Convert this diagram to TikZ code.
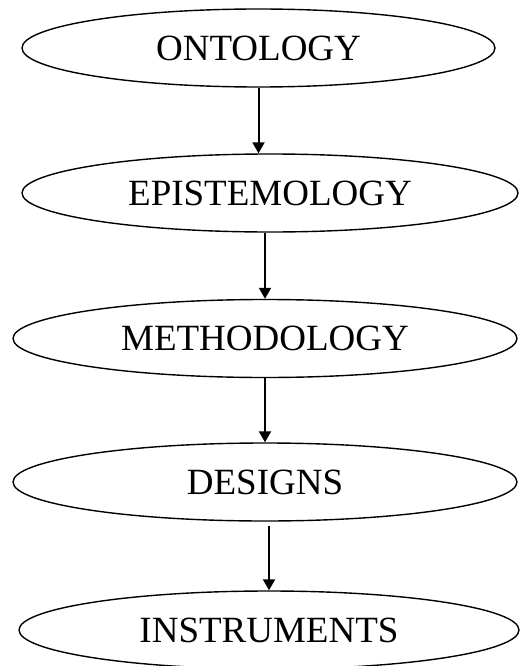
\documentclass[tikz,border=0pt]{standalone}
\usepackage{fontspec}
\setmainfont{Liberation Serif}
\usetikzlibrary{arrows.meta,shapes.geometric}

\begin{document}
\begin{tikzpicture}[
    x=1pt, y=-1pt,
    stage/.style={ellipse, draw=black, line width=1.4pt, inner sep=0pt,
                  minimum height=78pt, font=\fontsize{37}{40}\selectfont},
    flow/.style={draw=black, line width=2pt, -{Triangle[width=12pt, length=11pt]}},
  ]
  \useasboundingbox (0,0) rectangle (519,666);

  %% ================= the five stages, top to bottom =================
  \node[stage, minimum width=473pt] (onto) at (258.5,48)  {ONTOLOGY};
  \node[stage, minimum width=496pt] (epis) at (270,193)   {EPISTEMOLOGY};
  \node[stage, minimum width=504pt] (meth) at (265,338.5) {METHODOLOGY};
  \node[stage, minimum width=504pt] (desg) at (265,482)   {DESIGNS};
  \node[stage, minimum width=500pt] (inst) at (269,630)   {INSTRUMENTS};

  %% ================= the links between them =================
  \draw[flow] (onto.south) -- (onto.south |- epis.north);
  \draw[flow] (meth.north |- epis.south) -- (meth.north);
  \draw[flow] (desg.north |- meth.south) -- (desg.north);
  \draw[flow] ([yshift=-4pt]inst.north |- desg.south) -- (inst.north);

\end{tikzpicture}
\end{document}
